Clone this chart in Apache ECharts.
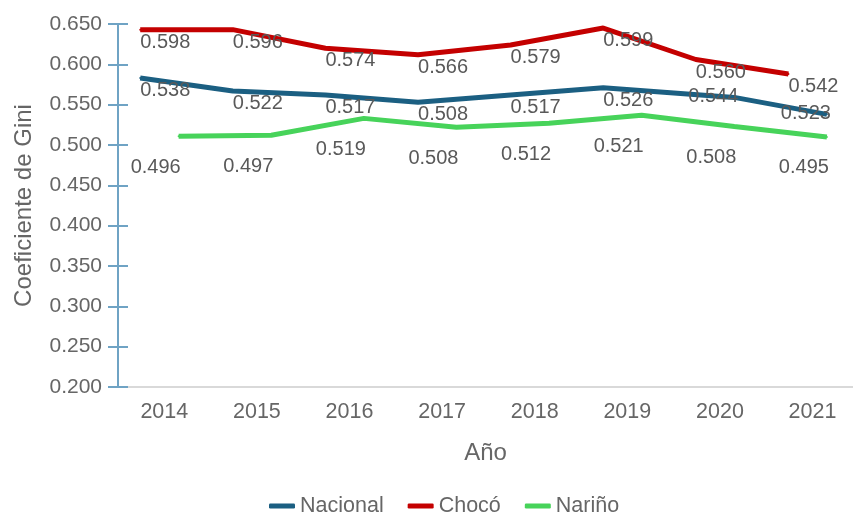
<!DOCTYPE html>
<html>
<head>
<meta charset="utf-8">
<script src="https://cdn.jsdelivr.net/npm/echarts@6/dist/echarts.min.js"></script>
<style>
  html, body { margin: 0; padding: 0; background: #fff; }
  #giniChart { width: 853px; height: 513px; }
</style>
</head>
<body>
<div id="giniChart"></div>
<script>
// data
var years = [2014, 2015, 2016, 2017, 2018, 2019, 2020, 2021];

// where the lines sit in the picture
var nacionalLine = [0.583, 0.567, 0.562, 0.553, 0.562, 0.571, 0.559, 0.538];
var chocoLine = [0.643, 0.643, 0.620, 0.612, 0.624, 0.645, 0.606, 0.588];
var narinoLine = [0.511, 0.512, 0.533, 0.522, 0.527, 0.537, 0.523, 0.510];

// printed values
var nacionalText = [0.538, 0.522, 0.517, 0.508, 0.517, 0.526, 0.544, 0.523];
var chocoText = [0.598, 0.596, 0.574, 0.566, 0.579, 0.599, 0.560, 0.542];
var narinoText = [0.496, 0.497, 0.519, 0.508, 0.512, 0.521, 0.508, 0.495];

var font = 'Liberation Sans, Arial, sans-serif';
var shiftLeft = -0.26, shiftRight = 0.155;

var labelBelowRight = { position: [26, 13.5] };
var labelBelowLeft = { position: [-22, 32] };
var labelLeft = { position: [-20, 0] };

function buildData(values, shiftRightFrom) {
  return values.map(function (v, i) {
    var right = i >= shiftRightFrom;
    return {
      value: [years[i] + (right ? shiftRight : shiftLeft), v],
      label: right ? labelLeft : labelBelowRight
    };
  });
}

function lineSeries(name, color, data, texts) {
  return {
    name: name,
    type: 'line',
    data: data,
    symbol: 'circle',
    symbolSize: 2,
    itemStyle: { color: color },
    lineStyle: { color: color, width: 5 },
    label: {
      show: true,
      align: 'center',
      verticalAlign: 'middle',
      color: '#595959',
      fontSize: 20,
      fontFamily: font,
      formatter: function (p) { return texts[p.dataIndex].toFixed(3); }
    }
  };
}

var narinoData = narinoLine.map(function (v, i) {
  return { value: [years[i] + shiftRight, v], label: labelBelowLeft };
});

var chart = echarts.init(document.getElementById('giniChart'));

var yBase = {
  type: 'value',
  min: 0.2,
  max: 0.65,
  interval: 0.05,
  position: 'left'
};

chart.setOption({
  animation: false,
  textStyle: { fontFamily: font },
  grid: { left: 118, right: 0, top: 24, bottom: 126 },
  legend: {
    data: ['Nacional', 'Chocó', 'Nariño'],
    left: 264,
    top: 490,
    icon: 'roundRect',
    itemWidth: 26,
    itemHeight: 5,
    itemGap: 24,
    textStyle: { color: '#666', fontSize: 21.5, fontFamily: font }
  },
  xAxis: {
    type: 'value',
    min: 2013.5,
    max: 2021.437,
    name: 'Año',
    nameLocation: 'middle',
    nameGap: 54,
    nameTextStyle: { color: '#666', fontSize: 24, fontFamily: font },
    splitLine: { show: false },
    axisTick: { show: false },
    axisLine: { show: true, lineStyle: { color: '#d9d9d9', width: 2 } },
    axisLabel: {
      customValues: years,
      color: '#666',
      fontSize: 21.5,
      margin: 14,
      fontFamily: font,
      formatter: function (v) { return String(v); }
    }
  },
  yAxis: [
    Object.assign({}, yBase, {
      name: 'Coeficiente de Gini',
      nameLocation: 'middle',
      nameGap: 82,
      nameTextStyle: { color: '#666', fontSize: 24, fontFamily: font },
      splitLine: { show: false },
      axisLine: { show: true, lineStyle: { color: '#6fa3c4', width: 2 } },
      axisTick: { show: true, length: 10, lineStyle: { color: '#6fa3c4', width: 2 } },
      axisLabel: {
        color: '#666',
        fontSize: 21,
        margin: 16,
        fontFamily: font,
        formatter: function (v) { return v.toFixed(3); }
      }
    }),
    Object.assign({}, yBase, {
      splitLine: { show: false },
      axisLine: { show: false },
      axisLabel: { show: false },
      axisTick: { show: true, inside: true, length: 10, lineStyle: { color: '#6fa3c4', width: 2 } }
    })
  ],
  series: [
    lineSeries('Nacional', '#1b5f82', buildData(nacionalLine, 6), nacionalText),
    lineSeries('Chocó', '#c40000', buildData(chocoLine, 99), chocoText),
    lineSeries('Nariño', '#47d35a', narinoData, narinoText)
  ]
});
</script>
</body>
</html>
